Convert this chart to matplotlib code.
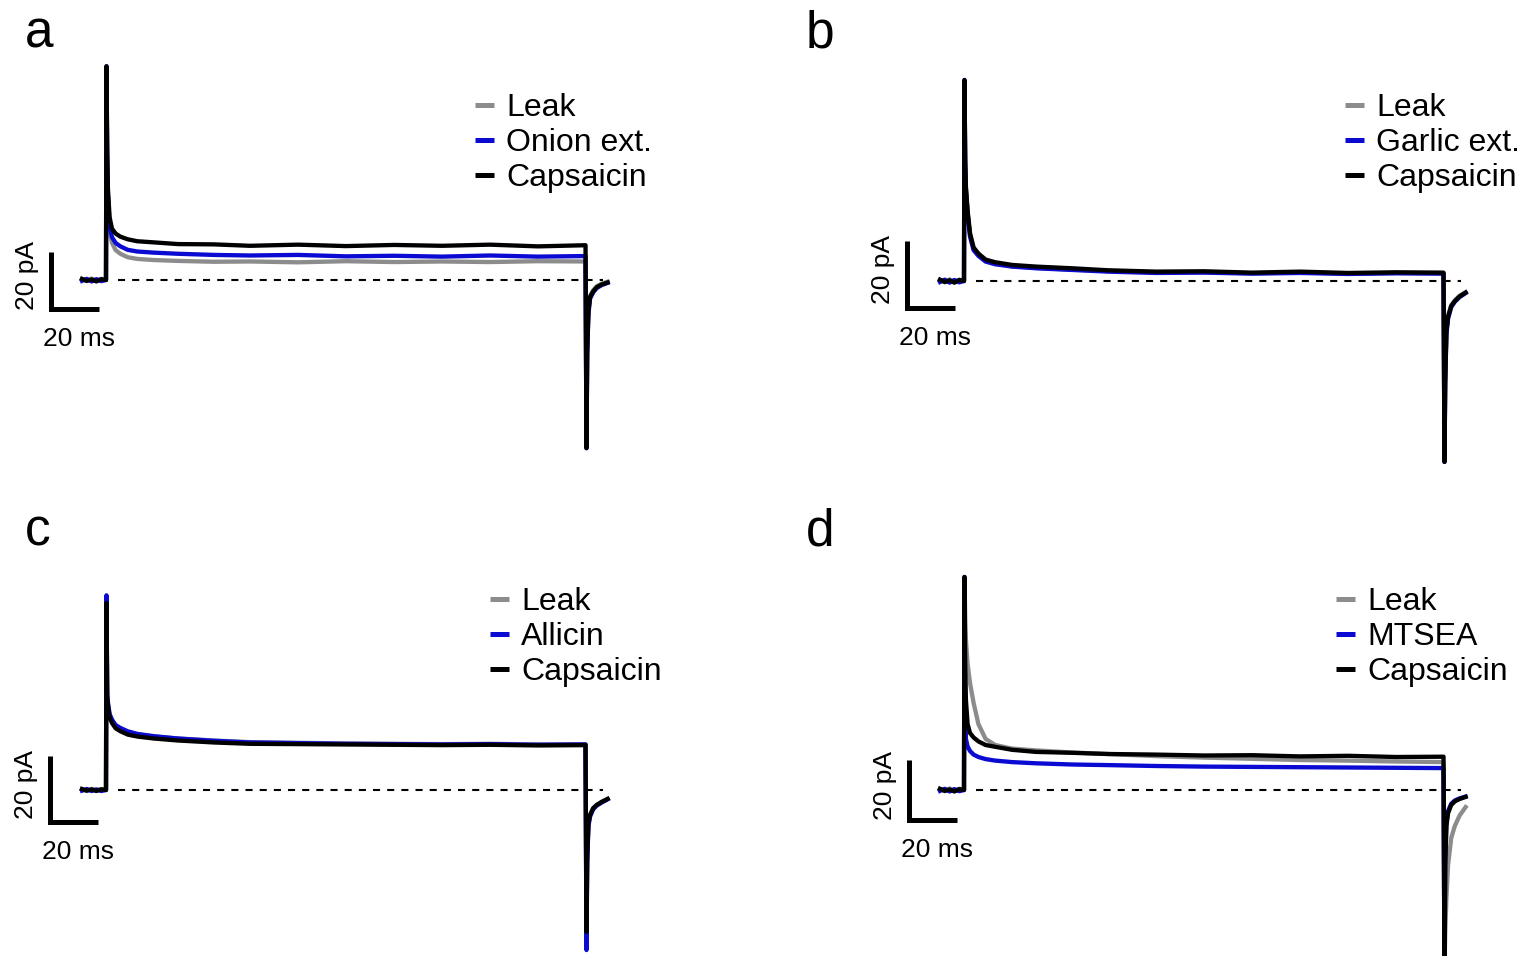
"""Whole-cell current traces: leak / extract / capsaicin, four panels."""
import matplotlib
matplotlib.use("Agg")
import matplotlib.pyplot as plt

plt.rcParams["font.family"] = ["Liberation Sans", "DejaVu Sans"]

W, H, DPI = 1526, 956, 100

# ---- time base (ms, 0 = onset of the voltage step) ----
t_pre = [-10, -8, -6, -4, -2, 0]
t_pulse = [0.2, 0.5, 0.8, 1.5, 2.5, 4, 6, 9, 13, 20, 30, 45, 60, 80, 100,
           120, 140, 160, 180, 199.8]
t_tail = [200.2, 200.5, 201, 201.7, 203, 204.5, 206.5, 209]
t_all = t_pre + t_pulse + t_tail

# ---- current (pA): pre-step | pulse | tail ----
leak_a = [0.3, -0.4, 0.5, -0.3, 0.4, 0.0,
          74, 40, 28, 17, 13, 10.5, 9.2, 8.0, 7.4, 7.0, 6.7, 6.4, 6.5, 6.2,
          6.6, 6.3, 6.5, 6.3, 6.6, 6.5,
          -57, -24, -10, -5.5, -3.6, -2.2, -1.3, -0.6]
drug_a = [-0.3, 0.4, -0.5, 0.3, -0.4, 0.0,
          75, 43, 30, 19, 15, 13, 11.8, 10.6, 10.0, 9.6, 9.2, 8.8, 8.6, 8.8,
          8.3, 8.5, 8.2, 8.6, 8.2, 8.4,
          -59, -26, -12, -6.5, -4.3, -2.8, -1.8, -1.0]
caps_a = [0.4, -0.3, 0.2, -0.5, 0.3, 0.0,
          75, 45, 32, 22, 18, 16.3, 15.2, 14.3, 13.6, 13.2, 12.6, 12.5, 12.0,
          12.4, 11.9, 12.3, 12.0, 12.4, 11.8, 12.2,
          -59, -25, -11, -6, -4, -2.5, -1.6, -0.9]

leak_b = [0.3, -0.4, 0.5, -0.3, 0.4, 0.0,
          59, 35, 27.5, 20.5, 13.8, 9.6, 7.8, 6.0, 5.2, 4.4, 3.9, 3.4, 3.0,
          2.6, 2.7, 2.3, 2.6, 2.2, 2.4, 2.3,
          -53, -29, -14.5, -10.3, -7.2, -5.8, -4.4, -3.3]
drug_b = [-0.3, 0.4, -0.5, 0.3, -0.4, 0.0,
          60, 35, 27, 20, 13.3, 9.2, 7.5, 5.8, 5.0, 4.3, 3.8, 3.3, 2.8, 2.4,
          2.5, 2.2, 2.4, 2.1, 2.3, 2.2,
          -54, -31, -16, -11.2, -7.8, -6.2, -4.8, -3.6]
caps_b = [0.4, -0.3, 0.2, -0.5, 0.3, 0.0,
          60, 36, 28, 21, 14.3, 10, 8.2, 6.4, 5.6, 4.8, 4.3, 3.8, 3.2, 2.8,
          2.9, 2.5, 2.8, 2.4, 2.6, 2.5,
          -54, -30, -15, -10.7, -7.5, -6, -4.6, -3.5]

leak_c = [0.2, -0.3, 0.3, -0.2, 0.3, 0.0,
          58, 28.5, 26, 22.7, 21, 19.4, 18.5, 17.6, 16.9, 16.2, 15.6, 15.0,
          14.5, 14.3, 14.1, 14.0, 13.9, 14.0, 13.8, 13.9,
          -45, -21, -10.5, -7.8, -5.6, -4.6, -3.7, -2.8]
drug_c = [-0.2, 0.3, -0.3, 0.2, -0.3, 0.0,
          59, 29, 26.5, 23, 21.3, 19.7, 18.8, 17.8, 17.0, 16.3, 15.6, 14.9,
          14.4, 14.2, 14.0, 13.9, 13.8, 13.9, 13.7, 13.8,
          -48.5, -22, -11, -8, -5.8, -4.7, -3.8, -2.8]
caps_c = [0.3, -0.2, 0.2, -0.3, 0.2, 0.0,
          56.7, 28, 25.5, 22, 20.3, 18.7, 17.8, 16.8, 16.2, 15.6, 15.0, 14.4,
          14.0, 13.9, 13.8, 13.7, 13.6, 13.7, 13.5, 13.6,
          -43, -20, -10, -7.5, -5.5, -4.5, -3.6, -2.7]

leak_d = [0.3, -0.4, 0.5, -0.3, 0.4, 0.0,
          71, 58, 50, 42, 35.7, 29, 22, 17, 15, 13.8, 13.2, 12.5, 12.0, 11.3,
          10.8, 10.4, 10.0, 9.8, 9.5, 9.3,
          -60, -48, -36, -25, -16, -12, -8.5, -5.7]
drug_d = [-0.3, 0.4, -0.5, 0.3, -0.4, 0.0,
          71, 30, 17, 14.5, 13, 11.8, 11, 10.3, 9.8, 9.3, 8.9, 8.5, 8.3, 8.0,
          7.8, 7.7, 7.6, 7.5, 7.4, 7.3,
          -62, -24, -11, -7, -4.6, -3.5, -2.8, -2.2]
caps_d = [0.4, -0.3, 0.2, -0.5, 0.3, 0.0,
          71, 40, 30, 22, 19, 17.5, 16.2, 15.0, 14.4, 13.4, 12.7, 12.4, 12.0,
          11.8, 11.5, 11.6, 11.2, 11.4, 11.0, 11.1,
          -62, -25, -12, -7.7, -5, -3.8, -3.0, -2.3]

panel_letters = ["a", "b", "c", "d"]
drug_names = ["Onion ext.", "Garlic ext.", "Allicin", "MTSEA"]
leak_traces = [leak_a, leak_b, leak_c, leak_d]
drug_traces = [drug_a, drug_b, drug_c, drug_d]
caps_traces = [caps_a, caps_b, caps_c, caps_d]

bar_ms, bar_pa = 20, 20
baseline_span = (5, 207)  # ms range of the dashed zero line

# ---- layout (pixels) ----
boxes = [(0, 0, 763, 478), (763, 0, 1526, 478),
         (0, 478, 763, 956), (763, 478, 1526, 956)]
origins = [(106, 280), (964, 281), (106, 790), (964, 790)]
sx = 2.4                      # px per ms
sy = [2.85, 3.35, 3.3, 3.0]   # px per pA
bar_corner = [(-23, -10), (-23.7, -8), (-23.3, -9.7), (-22.9, -10)]
legend_px = [(475, 93), (1345, 93), (490, 587), (1336, 587)]
letter_px = [(25, 48), (806, 48), (25, 546), (806, 546)]

GREY, BLUE, BLACK = "#8c8c8c", "#0a0ad2", "#000000"
LW = 3.1

fig = plt.figure(figsize=(W / DPI, H / DPI), dpi=DPI)

for i in range(4):
    x0, y0, x1, y1 = boxes[i]
    ox, oy = origins[i]
    ax = fig.add_axes([x0 / W, 1 - y1 / H, (x1 - x0) / W, (y1 - y0) / H])
    ax.set_xlim((x0 - ox) / sx, (x1 - ox) / sx)
    ax.set_ylim((oy - y1) / sy[i], (oy - y0) / sy[i])
    ax.axis("off")

    ax.hlines(0, *baseline_span, colors="k", lw=1.5,
              linestyles=(0, (3.4, 3.4)), zorder=1)

    ax.plot(t_all, leak_traces[i], color=GREY, lw=LW, label="Leak", zorder=2)
    ax.plot(t_all, drug_traces[i], color=BLUE, lw=LW, label=drug_names[i], zorder=3)
    ax.plot(t_all, caps_traces[i], color=BLACK, lw=LW, label="Capsaicin", zorder=4)

    # scale bar
    cx, cy = bar_corner[i]
    ax.plot([cx, cx, cx + bar_ms], [cy + bar_pa, cy, cy], color="k", lw=3.6,
            solid_capstyle="butt", solid_joinstyle="miter")
    ax.annotate(f"{bar_pa} pA", xy=(cx, cy + bar_pa / 2), xytext=(-24, 5),
                textcoords="offset pixels", rotation=90, ha="center",
                va="center", fontsize=19)
    ax.annotate(f"{bar_ms} ms", xy=(cx, cy), xytext=(-8, -30),
                textcoords="offset pixels", ha="left", va="center", fontsize=19)

    lx, ly = legend_px[i]
    leg = ax.legend(loc="upper left", bbox_to_anchor=(lx / W, 1 - ly / H),
                    bbox_transform=fig.transFigure, frameon=False, fontsize=23,
                    handlelength=0.6, handletextpad=0.38, labelspacing=0.16,
                    borderpad=0, borderaxespad=0)
    for ln in leg.get_lines():
        ln.set_linewidth(3.6)
        ln.set_solid_capstyle("butt")

    fig.text(letter_px[i][0] / W, 1 - letter_px[i][1] / H, panel_letters[i],
             fontsize=37, ha="left", va="baseline")

fig.savefig("out.png", dpi=DPI)
print("saved out.png")
